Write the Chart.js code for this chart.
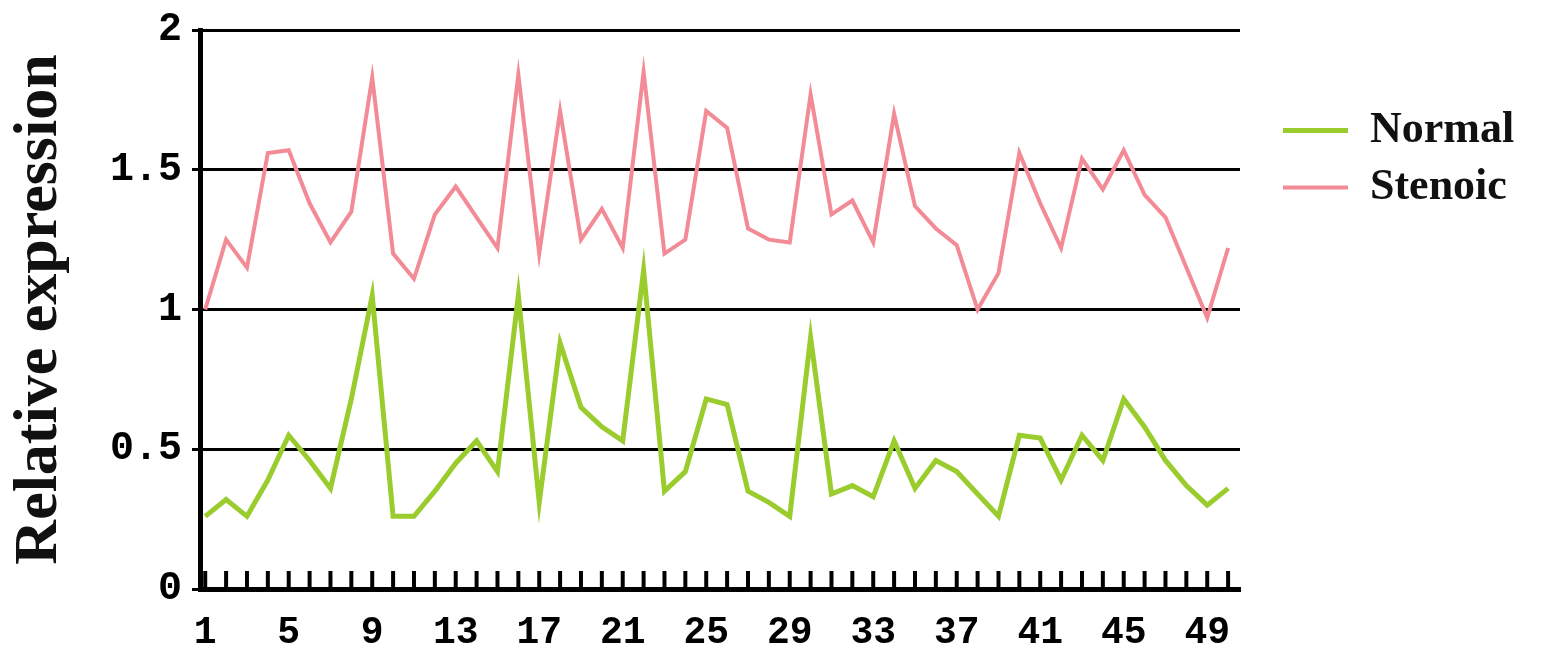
<!DOCTYPE html>
<html>
<head>
<meta charset="utf-8">
<script src="https://cdn.jsdelivr.net/npm/chart.js@4"></script>
<style>
  html, body { margin: 0; padding: 0; background: #fff; }
</style>
</head>
<body>
<canvas id="grafico" width="1559" height="659"></canvas>
<script>
// Datos
const muestras = [1, 2, 3, 4, 5, 6, 7, 8, 9, 10, 11, 12, 13, 14, 15, 16, 17, 18, 19, 20,
  21, 22, 23, 24, 25, 26, 27, 28, 29, 30, 31, 32, 33, 34, 35, 36, 37, 38, 39, 40,
  41, 42, 43, 44, 45, 46, 47, 48, 49, 50];
const normal = [0.26, 0.32, 0.26, 0.39, 0.55, 0.46, 0.36, 0.68, 1.05, 0.26,
  0.26, 0.35, 0.45, 0.53, 0.42, 1.05, 0.31, 0.88, 0.65, 0.58,
  0.53, 1.14, 0.35, 0.42, 0.68, 0.66, 0.35, 0.31, 0.26, 0.90,
  0.34, 0.37, 0.33, 0.53, 0.36, 0.46, 0.42, 0.34, 0.26, 0.55,
  0.54, 0.39, 0.55, 0.46, 0.68, 0.58, 0.46, 0.37, 0.30, 0.36];
const stenoic = [1.00, 1.25, 1.15, 1.56, 1.57, 1.38, 1.24, 1.35, 1.83, 1.20,
  1.11, 1.34, 1.44, 1.33, 1.22, 1.84, 1.20, 1.71, 1.25, 1.36,
  1.22, 1.85, 1.20, 1.25, 1.71, 1.65, 1.29, 1.25, 1.24, 1.77,
  1.34, 1.39, 1.24, 1.70, 1.37, 1.29, 1.23, 1.00, 1.13, 1.56,
  1.38, 1.22, 1.54, 1.43, 1.57, 1.41, 1.33, 1.15, 0.97, 1.22];
const ticksY = [0, 0.5, 1, 1.5, 2];
const etiquetasX = [1, 5, 9, 13, 17, 21, 25, 29, 33, 37, 41, 45, 49];

const fuenteY = { family: "Liberation Mono", weight: "bold", size: 40, lineHeight: 1 };
const fuenteX = { family: "Liberation Mono", weight: "bold", size: 38 };
const fuenteTitulo = { family: "Liberation Serif", weight: "bold", size: 62 };

// Marcas del eje X dibujadas hacia arriba
const marcasEjeX = {
    id: "marcasEjeX",
    afterDatasetsDraw(chart) {
        const escala = chart.scales.x;
        const ctx = chart.ctx;
        ctx.save();
        ctx.strokeStyle = "#000";
        ctx.lineWidth = 4;
        escala.ticks.forEach((t) => {
            const px = escala.getPixelForValue(t.value);
            ctx.beginPath();
            ctx.moveTo(px, escala.top);
            ctx.lineTo(px, escala.top - 18);
            ctx.stroke();
        });
        ctx.restore();
    },
};

const ctx = document.getElementById("grafico").getContext("2d");
new Chart(ctx, {
    type: "line",
    data: {
        datasets: [
            {
                label: "Normal",
                data: muestras.map((m, i) => ({ x: m, y: normal[i] })),
                borderColor: "#9ACC2E",
                borderWidth: 5,
                pointRadius: 0,
                tension: 0,
            },
            {
                label: "Stenoic",
                data: muestras.map((m, i) => ({ x: m, y: stenoic[i] })),
                borderColor: "#F28B96",
                borderWidth: 4,
                pointRadius: 0,
                tension: 0,
            },
        ],
    },
    options: {
        responsive: false,
        animation: false,
        layout: { padding: { left: 0, right: 35, top: 14, bottom: 0 } },
        plugins: {
            legend: {
                position: "right",
                align: "start",
                title: { display: true, text: " ", padding: { top: 67, bottom: 0 } },
                labels: {
                    usePointStyle: true,
                    pointStyle: "line",
                    pointStyleWidth: 65,
                    color: "#111",
                    padding: 13,
                    font: { family: "Liberation Serif", weight: "bold", size: 44 },
                },
            },
            tooltip: { enabled: false },
        },
        scales: {
            x: {
                type: "linear",
                min: 0.75,
                max: 50.57,
                afterBuildTicks: (s) => { s.ticks = muestras.map((v) => ({ value: v })); },
                afterFit: (s) => { s.height = 70; },
                ticks: {
                    autoSkip: false,
                    maxRotation: 0,
                    color: "#000",
                    padding: 22,
                    font: fuenteX,
                    callback: (v) => (etiquetasX.includes(v) ? String(v) : ""),
                },
                grid: { drawOnChartArea: false, drawTicks: false },
                border: { color: "#000", width: 5 },
            },
            y: {
                min: 0,
                max: 2,
                afterBuildTicks: (s) => { s.ticks = ticksY.map((v) => ({ value: v })); },
                afterFit: (s) => { s.width = 200; },
                ticks: {
                    color: "#000",
                    padding: 10,
                    font: fuenteY,
                    callback: (v) => String(v),
                },
                grid: { color: "#000", lineWidth: 3, tickLength: 8 },
                border: { color: "#000", width: 5 },
                title: {
                    display: true,
                    text: "Relative expression",
                    color: "#111",
                    font: fuenteTitulo,
                    padding: { top: 3, bottom: 0 },
                },
            },
            // espacio vacío entre el gráfico y la leyenda
            espacio: {
                type: "linear",
                position: "right",
                afterFit: (s) => { s.width = 30; },
                ticks: { display: false },
                grid: { display: false },
                border: { display: false },
            },
        },
    },
    plugins: [marcasEjeX],
});
</script>
</body>
</html>
